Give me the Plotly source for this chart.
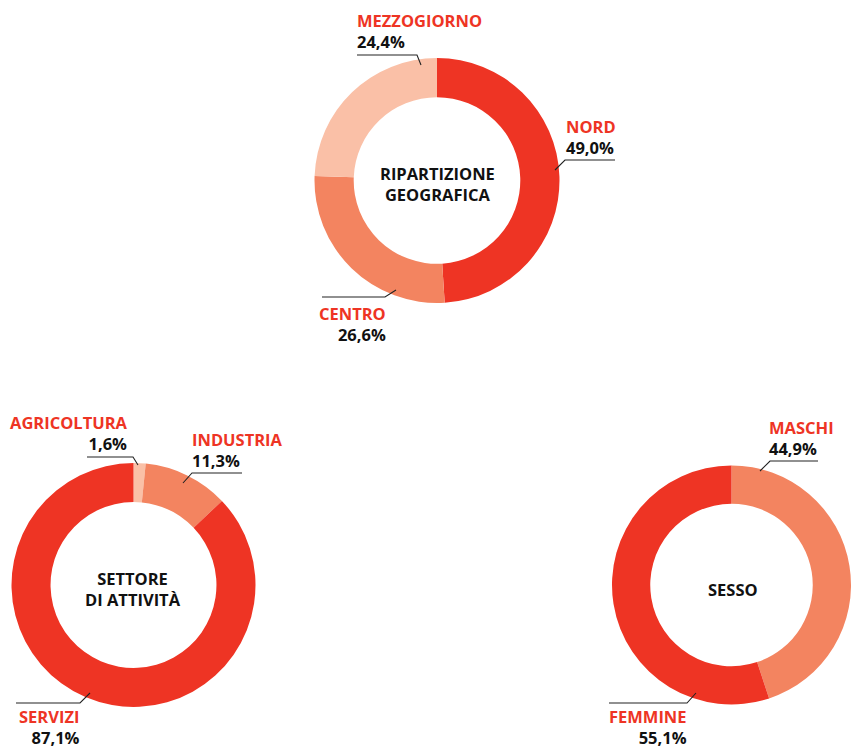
import plotly.graph_objects as go

# ---- data ----
geo_labels = ["NORD", "CENTRO", "MEZZOGIORNO"]
geo_values = [49.0, 26.6, 24.4]
geo_title = "RIPARTIZIONE<br>GEOGRAFICA"

sector_labels = ["AGRICOLTURA", "INDUSTRIA", "SERVIZI"]
sector_values = [1.6, 11.3, 87.1]
sector_title = "SETTORE<br>DI ATTIVITÀ"

sex_labels = ["MASCHI", "FEMMINE"]
sex_values = [44.9, 55.1]
sex_title = "SESSO"

# ---- styling ----
W, H = 851, 750
RED = "#EE3424"
MID = "#F38460"
LIGHT = "#FAC0A7"
INK = "#111111"
FONT = "Open Sans"
FS = 16.5

geo_colors = [RED, MID, LIGHT]
sector_colors = [LIGHT, MID, RED]
sex_colors = [MID, RED]


def px(x):
    return x / W


def py(y):
    return 1 - y / H


def fmt(v):
    return f"{v:.1f}".replace(".", ",") + "%"


def dom(x0, x1, y0, y1):
    return dict(x=[px(x0), px(x1)], y=[py(y1), py(y0)])


fig = go.Figure()


def add_pie(labels, values, colors, domain):
    fig.add_trace(go.Pie(
        labels=labels, values=values, hole=0.68, sort=False,
        direction="clockwise", rotation=0, textinfo="none",
        marker=dict(colors=colors, line=dict(width=0)),
        domain=domain, showlegend=False, hoverinfo="label+value",
    ))


add_pie(geo_labels, geo_values, geo_colors, dom(314.5, 559.5, 58, 303))
add_pie(sector_labels, sector_values, sector_colors, dom(11.5, 255.5, 463, 707))
add_pie(sex_labels, sex_values, sex_colors, dom(612, 851, 463, 707))

annotations = []


def text(x, y, s, anchor, yanchor="middle"):
    annotations.append(dict(
        x=px(x), y=py(y), xref="paper", yref="paper", text=s,
        showarrow=False, xanchor=anchor, yanchor=yanchor, align=anchor,
        borderpad=0,
        font=dict(family=FONT, size=FS, color=INK, weight=700),
    ))


def label(name, value, x, y, anchor, bottom=False):
    s = f"<span style='color:{RED}'>{name}</span><br>{fmt(value)}"
    if bottom:
        text(x, 750, s, anchor, "bottom")
    else:
        text(x, y + 11, s, anchor)


shapes = []


def leader(pts):
    path = "M " + " L ".join(f"{px(a)},{py(b)}" for a, b in pts)
    shapes.append(dict(type="path", xref="paper", yref="paper", path=path,
                       line=dict(color="#222222", width=1.1)))


# top donut labels
label(geo_labels[2], geo_values[2], 356, 20, "left")
label(geo_labels[0], geo_values[0], 565, 126, "left")
label(geo_labels[1], geo_values[1], 387, 313, "right")
leader([(357, 55), (417, 55), (421, 65)])
leader([(615, 160), (565, 160), (555, 170)])
leader([(322, 297), (385, 297), (396, 290)])
text(437, 184, geo_title, "center")

# sector donut labels
label(sector_labels[0], sector_values[0], 129, 422, "right")
label(sector_labels[1], sector_values[1], 191, 439, "left")
label(sector_labels[2], sector_values[2], 81, 720, "right", bottom=True)
leader([(87, 457), (133, 457), (138, 465)])
leader([(242, 473), (192, 473), (183, 483)])
leader([(16, 703), (80, 703), (90, 693)])
text(133, 589, sector_title, "center")

# sex donut labels
label(sex_labels[0], sex_values[0], 768, 427, "left")
label(sex_labels[1], sex_values[1], 688, 718, "right", bottom=True)
leader([(818, 461), (770, 461), (760, 471)])
leader([(609, 703), (687, 703), (696, 693)])
text(733, 589, sex_title, "center")

fig.update_layout(
    width=W, height=H,
    margin=dict(l=0, r=0, t=0, b=0),
    paper_bgcolor="white", plot_bgcolor="white",
    annotations=annotations, shapes=shapes,
    font=dict(family=FONT),
)

fig.write_html("out.html", config={"displayModeBar": False},
               post_script="document.body.style.margin='0';")
